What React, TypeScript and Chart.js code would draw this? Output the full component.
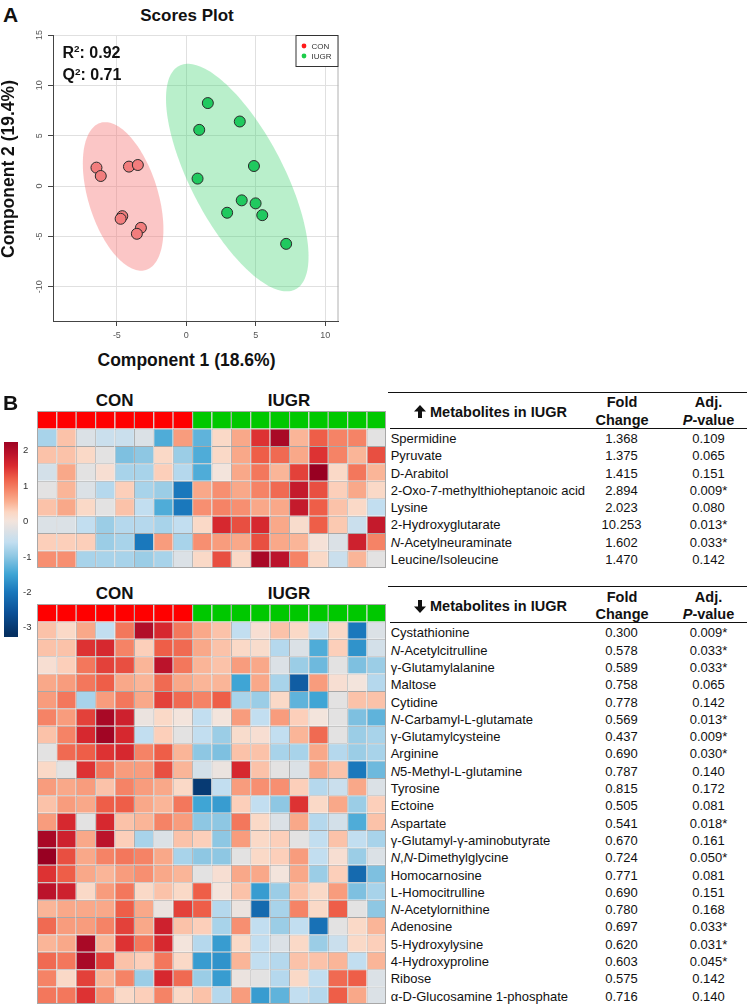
import React, { useEffect, useRef } from "react";
import { Chart, registerables } from "chart.js";
Chart.register(...registerables);

const FONT = "'Liberation Sans', Arial, Helvetica, sans-serif";
Chart.defaults.font.family = FONT;

// ---------- Panel A data ----------
const conX = [-6.47, -6.16, -4.13, -3.49, -4.61, -4.73, -3.27, -3.56];
const conY = [1.83, 1.0, 1.93, 2.09, -2.99, -3.25, -4.15, -4.74];
const iugrX = [1.55, 0.93, 3.85, 4.87, 0.81, 3.99, 4.99, 2.94, 5.47, 7.19];
const iugrY = [8.24, 5.58, 6.41, 1.99, 0.74, -1.42, -1.72, -2.65, -2.89, -5.74];
const xTicks = [-5, 0, 5, 10];
const yTicks = [-10, -5, 0, 5, 10, 15];
// 95% regions: centre, major half-axis, minor half-axis (data units)
const conEllipse = { c: [-4.55, -1.03], u: [-1.645, 7.3], v: [2.39, 1.043] };
const iugrEllipse = { c: [3.67, 0.84], u: [-4.2, 11.09], v: [2.95, 2.16] };

// ---------- Panel B data ----------
const sampleGroups = ["CON", "CON", "CON", "CON", "CON", "CON", "CON", "CON",
  "IUGR", "IUGR", "IUGR", "IUGR", "IUGR", "IUGR", "IUGR", "IUGR", "IUGR", "IUGR"];
const colorTicks = [2, 1, 0, -1, -2, -3];

const upNames = ["Spermidine", "Pyruvate", "D-Arabitol", "2-Oxo-7-methylthioheptanoic acid", "Lysine",
  "2-Hydroxyglutarate", "N-Acetylneuraminate", "Leucine/Isoleucine"];
const upFold = [1.368, 1.375, 1.415, 2.894, 2.023, 10.253, 1.602, 1.47];
const upP = [0.109, 0.065, 0.151, 0.009, 0.08, 0.013, 0.033, 0.142];
const upHeat = [
  [-0.8, 0.4, -0.3, -0.5, -0.5, -0.3, -1.4, 0.7, -1.3, 0.2, 0.6, 1.5, 2.1, 0.5, 1.2, 0.9, 0.9, -0.2],
  [0.4, 0.4, 0.2, -0.2, -1.1, -1.0, 0.2, -0.9, -1.4, 0.2, 0.6, 1.2, 1.1, 0.6, 1.5, 0.9, 0.5, 1.3],
  [-0.4, 0.6, -0.2, 0.1, -0.8, -0.8, 0.3, -0.7, -1.4, 0.0, 0.6, 1.0, 0.5, 1.4, 2.3, 0.2, 1.0, 0.5],
  [-0.2, 0.5, -0.3, -0.7, 0.3, -0.8, -0.9, -2.0, 0.6, 0.8, 0.6, 0.9, 1.1, 1.8, 1.3, 0.3, 0.6, 0.2],
  [0.4, 0.6, 0.2, -0.2, 0.4, -0.6, -1.4, -2.0, 0.8, 0.9, 0.8, 0.6, 0.6, 1.8, 1.2, 0.4, 0.2, -0.6],
  [-0.3, -0.3, -0.6, -0.9, -0.7, -0.7, -0.8, -0.6, 0.2, 1.6, 1.3, 1.6, 0.6, 0.15, 1.2, 0.35, -0.5, 1.8],
  [0.3, 0.3, 0.3, -0.9, -0.8, -2.0, 0.7, -0.8, 0.8, 0.7, 0.6, 1.3, 0.6, 0.5, 0.05, -0.3, 1.7, 0.9],
  [0.8, 0.8, -0.8, -0.8, -0.8, -0.9, -0.8, -0.3, 0.2, 1.3, 0.2, 2.1, 1.9, 0.9, 0.2, -0.5, 0.5, -0.2],
];

const downNames = ["Cystathionine", "N-Acetylcitrulline", "γ-Glutamylalanine", "Maltose", "Cytidine",
  "N-Carbamyl-L-glutamate", "γ-Glutamylcysteine", "Arginine", "N5-Methyl-L-glutamine", "Tyrosine", "Ectoine",
  "Aspartate", "γ-Glutamyl-γ-aminobutyrate", "N,N-Dimethylglycine", "Homocarnosine", "L-Homocitrulline",
  "N-Acetylornithine", "Adenosine", "5-Hydroxylysine", "4-Hydroxyproline", "Ribose", "α-D-Glucosamine 1-phosphate"];
const downFold = [0.3, 0.578, 0.589, 0.758, 0.778, 0.569, 0.437, 0.69, 0.787, 0.815, 0.505, 0.541, 0.67, 0.724,
  0.771, 0.69, 0.78, 0.697, 0.62, 0.603, 0.575, 0.716];
const downP = [0.009, 0.033, 0.033, 0.065, 0.142, 0.013, 0.009, 0.03, 0.14, 0.172, 0.081, 0.018, 0.161, 0.05,
  0.081, 0.151, 0.168, 0.033, 0.031, 0.045, 0.142, 0.14];
const downHeat = [
  [0.4, 0.2, 0.6, -0.6, 1.0, 2.0, 1.6, 1.0, 0.6, 0.4, -0.6, 0.1, 0.4, 0.2, -0.6, 0.2, -2.0, -0.3],
  [0.4, 0.4, 1.5, 1.6, 0.9, 0.3, 1.2, 1.1, 0.6, 0.4, 0.2, 0.15, -0.7, -0.3, -1.4, 0.3, -1.7, -0.4],
  [0.1, 0.3, 1.0, 1.4, 1.3, 0.5, 1.9, 1.0, 0.5, 0.4, 0.7, 0.6, -0.3, -0.9, -1.2, -0.2, -1.1, -0.9],
  [0.6, 0.7, 1.0, 1.2, 0.6, 0.5, 1.1, 0.6, 0.5, 0.5, -1.5, 0.6, -0.8, -2.4, 0.7, 0.1, 0.0, -0.7],
  [0.7, 1.0, -0.8, 0.7, 1.0, 0.6, 1.4, 1.1, 0.9, 1.2, -0.8, -0.9, 0.2, -1.3, -1.5, -0.2, 0.4, 0.4],
  [0.9, 0.7, 1.4, 2.1, 1.7, -0.1, 0.2, 0.0, -0.6, 0.0, 0.7, -0.6, 0.7, 0.3, 0.0, -0.2, -1.1, -1.3],
  [0.4, 0.9, 1.6, 2.2, 1.6, -0.6, 0.3, -0.2, -0.6, -0.9, 0.15, 0.1, -0.6, 0.5, 1.1, -0.2, -0.9, -0.8],
  [-0.2, 1.1, 1.2, 1.5, 1.6, 0.9, 1.2, 0.5, -1.0, -1.1, 0.4, 0.4, -0.8, -0.8, 0.6, -0.7, -0.9, -0.8],
  [0.2, -0.2, 1.5, 1.0, 0.7, 0.7, 1.3, 0.5, -0.4, -0.1, 1.6, 0.4, -0.2, -0.3, 0.6, 0.4, -2.0, -1.2],
  [0.7, 0.6, 0.7, 0.4, 0.9, 0.7, 0.6, 0.2, -3.0, -0.6, 0.7, 0.8, 0.8, 0.3, -0.7, -0.5, 0.6, -0.3],
  [0.4, 0.7, 0.6, 1.2, 1.2, 0.6, 0.5, 1.0, -1.5, -1.6, 0.3, -0.6, -1.0, 1.5, 0.2, 0.6, -0.9, 0.3],
  [0.7, 1.6, -0.2, 1.6, 0.4, 0.5, 0.9, 0.7, -1.0, -1.0, 1.0, 0.2, -0.3, 0.6, -0.7, -0.4, -1.4, 0.4],
  [2.1, 1.7, 0.6, 1.9, 0.3, -0.8, -0.3, 0.4, 0.3, -1.0, 0.7, 0.2, 0.3, -0.2, -0.6, 0.4, -0.6, -0.8],
  [2.4, 1.3, 0.6, 0.9, 1.0, 0.9, 0.6, -0.8, -1.0, -1.0, -0.2, 0.2, 0.3, 0.7, -0.6, 0.1, -0.9, -0.3],
  [1.5, 1.2, 0.6, 0.5, 0.7, 0.8, 0.6, 0.5, -0.2, 0.1, 0.6, 0.6, 0.0, 0.6, -0.9, 0.3, -2.2, -1.1],
  [1.9, 1.7, 0.2, 0.7, 1.0, 0.2, 0.4, 0.2, 1.2, 0.0, 0.4, -1.6, -0.9, 0.4, 0.2, 0.7, -1.1, -0.8],
  [0.5, 0.6, 0.6, 0.6, 1.2, 0.6, -0.1, 1.4, 1.2, -0.7, -0.1, -2.2, -0.8, 0.9, 0.2, 1.2, -0.2, -1.0],
  [1.1, 0.7, 0.7, 0.9, 1.4, 0.6, 1.7, 0.4, 0.3, -0.8, 0.8, -0.6, -0.9, -0.6, -2.1, -0.2, 0.2, 0.5],
  [0.5, 0.6, 2.1, 0.5, 1.5, 1.0, 1.6, 0.0, -0.7, -1.6, 0.2, -0.6, -0.3, 0.2, -0.9, -0.5, 0.2, 0.3],
  [1.1, 1.0, 2.1, 1.4, 0.4, 0.3, 1.0, 0.2, -1.6, -1.7, 0.5, -0.6, -0.7, 0.4, 0.4, 0.5, -0.6, 0.5],
  [0.9, 0.2, 1.4, 0.5, 0.9, -0.9, 1.6, 1.1, -0.9, -1.6, -0.1, -0.2, -0.7, 0.2, -0.6, 1.1, 1.2, -0.3],
  [1.0, 1.0, 1.5, 0.8, 0.2, 0.3, 0.9, 0.2, 0.4, -0.7, 0.7, -1.6, -1.3, -0.6, -0.7, 1.2, 0.6, -0.3],
];

// ---------- colour scale ----------
const colorStops: [number, string][] = [
  [-3.2, "#053061"], [-2.6, "#0b4f96"], [-2.0, "#1a78bc"], [-1.5, "#3fa5d5"], [-1.0, "#8ec7e3"],
  [-0.6, "#c2def0"], [-0.25, "#dfe1e4"], [0, "#f3e4dc"], [0.25, "#fcd6c2"], [0.55, "#faae8f"],
  [0.85, "#f6896b"], [1.2, "#ee5e48"], [1.55, "#da2b30"], [1.9, "#bb132b"], [2.3, "#980022"],
];
function hexRgb(h: string) {
  return [parseInt(h.slice(1, 3), 16), parseInt(h.slice(3, 5), 16), parseInt(h.slice(5, 7), 16)];
}
function valueColor(v: number) {
  if (v <= colorStops[0][0]) return colorStops[0][1];
  for (let i = 1; i < colorStops.length; i++) {
    const [v1, c1] = colorStops[i];
    if (v <= v1) {
      const [v0, c0] = colorStops[i - 1];
      const t = (v - v0) / (v1 - v0);
      const a = hexRgb(c0), b = hexRgb(c1);
      return `rgb(${a.map((x, k) => Math.round(x + (b[k] - x) * t)).join(",")})`;
    }
  }
  return colorStops[colorStops.length - 1][1];
}
const groupColor: Record<string, string> = { CON: "#ff0000", IUGR: "#00c800" };

// ---------- chart helpers ----------
function ChartCanvas({ make, left, top, w, h }: { make: () => any; left: number; top: number; w: number; h: number }) {
  const ref = useRef<HTMLCanvasElement>(null);
  useEffect(() => {
    const c = new Chart(ref.current as HTMLCanvasElement, make());
    return () => c.destroy();
  }, []);
  return <canvas ref={ref} width={w} height={h} style={{ position: "absolute", left, top, width: w, height: h }} />;
}

const ellipsePlugin = {
  id: "ellipses",
  beforeDatasetsDraw(chart: any) {
    const { ctx, chartArea, scales } = chart;
    const sx = scales.x, sy = scales.y;
    ctx.save();
    ctx.beginPath();
    ctx.rect(chartArea.left, chartArea.top, chartArea.width, chartArea.height);
    ctx.clip();
    const list = [
      { e: conEllipse, fill: "rgba(245,120,120,0.42)" },
      { e: iugrEllipse, fill: "rgba(60,210,110,0.36)" },
    ];
    for (const { e, fill } of list) {
      ctx.beginPath();
      for (let i = 0; i <= 180; i++) {
        const t = (i / 180) * Math.PI * 2;
        const dx = e.c[0] + e.u[0] * Math.cos(t) + e.v[0] * Math.sin(t);
        const dy = e.c[1] + e.u[1] * Math.cos(t) + e.v[1] * Math.sin(t);
        const px = sx.getPixelForValue(dx), py = sy.getPixelForValue(dy);
        if (i === 0) ctx.moveTo(px, py); else ctx.lineTo(px, py);
      }
      ctx.closePath();
      ctx.fillStyle = fill;
      ctx.fill();
    }
    ctx.restore();
  },
  afterDraw(chart: any) {
    const { ctx, chartArea } = chart;
    ctx.save();
    ctx.strokeStyle = "#b0b0b0";
    ctx.lineWidth = 1;
    ctx.beginPath();
    ctx.moveTo(chartArea.right - 0.5, chartArea.top);
    ctx.lineTo(chartArea.right - 0.5, chartArea.bottom);
    ctx.stroke();
    const bw = 43, bh = 32;
    const bx = chartArea.right - bw, by = chartArea.top;
    ctx.fillStyle = "#fff";
    ctx.fillRect(bx, by, bw, bh);
    ctx.strokeStyle = "#333";
    ctx.strokeRect(bx + 0.5, by + 0.5, bw - 1, bh - 1);
    const items = [{ t: "CON", c: "#ff1a1a" }, { t: "IUGR", c: "#1ccc4a" }];
    items.forEach((it, i) => {
      const cy = by + 11 + i * 10;
      ctx.beginPath();
      ctx.arc(bx + 8.5, cy, 2.4, 0, Math.PI * 2);
      ctx.fillStyle = it.c;
      ctx.fill();
      ctx.fillStyle = "#333";
      ctx.font = `8px ${FONT}`;
      ctx.textBaseline = "middle";
      ctx.fillText(it.t, bx + 16, cy + 0.5);
    });
    ctx.restore();
  },
};

function scoresConfig() {
  return {
    type: "scatter",
    data: {
      datasets: [
        {
          label: "CON", data: conX.map((x, i) => ({ x, y: conY[i] })),
          backgroundColor: "#f27d7d", borderColor: "#2a2a2a", borderWidth: 1, pointRadius: 5.5,
        },
        {
          label: "IUGR", data: iugrX.map((x, i) => ({ x, y: iugrY[i] })),
          backgroundColor: "#20c95f", borderColor: "#2a2a2a", borderWidth: 1, pointRadius: 5.5,
        },
      ],
    },
    options: {
      animation: false, responsive: false, events: [],
      layout: { padding: { top: 35, right: 5, left: 0, bottom: 0 } },
      plugins: { legend: { display: false }, tooltip: { enabled: false } },
      scales: {
        x: {
          type: "linear", min: -9.6, max: 10.96,
          afterBuildTicks: (s: any) => { s.ticks = xTicks.map((v) => ({ value: v })); },
          afterFit: (s: any) => { s.height = 29; },
          grid: { color: "#e0e0e0", tickColor: "#444", tickLength: 5, drawTicks: true },
          border: { display: true, color: "#444", width: 1 },
          ticks: { font: { size: 9 }, color: "#555", padding: 4, maxRotation: 0, autoSkip: false },
        },
        y: {
          type: "linear", min: -13.4, max: 15,
          afterBuildTicks: (s: any) => { s.ticks = yTicks.map((v) => ({ value: v })); },
          afterFit: (s: any) => { s.width = 53; },
          grid: { color: "#e0e0e0", tickColor: "#444", tickLength: 5, drawTicks: true },
          border: { display: true, color: "#444", width: 1 },
          ticks: { font: { size: 9 }, color: "#555", padding: 2, minRotation: 90, maxRotation: 90, crossAlign: "center", autoSkip: false },
        },
      },
    },
    plugins: [ellipsePlugin],
  };
}

const framePlugin = {
  id: "frame",
  afterDraw(chart: any) {
    const { ctx, chartArea } = chart;
    ctx.save();
    ctx.strokeStyle = "#a8a8a8";
    ctx.lineWidth = 1;
    ctx.strokeRect(chartArea.left + 0.5, chartArea.top + 0.5, chartArea.width - 1, chartArea.height - 1);
    ctx.restore();
  },
};

function heatConfig(rows: number[][]) {
  const labels = sampleGroups.map((g, i) => `${g}${i + 1}`);
  const common = {
    categoryPercentage: 1, barPercentage: 1, borderColor: "#a8a8a8",
    borderWidth: { top: 1, left: 1, right: 0, bottom: 0 }, borderSkipped: false, inflateAmount: 0,
  };
  const datasets = [
    { label: "group", data: sampleGroups.map(() => 1), backgroundColor: sampleGroups.map((g) => groupColor[g]), ...common },
    ...rows.map((r, i) => ({ label: `row${i}`, data: r.map(() => 1), backgroundColor: r.map(valueColor), ...common })),
  ];
  return {
    type: "bar",
    data: { labels, datasets },
    options: {
      animation: false, responsive: false, events: [],
      layout: { padding: 0 },
      plugins: { legend: { display: false }, tooltip: { enabled: false } },
      scales: {
        x: { display: false, stacked: true },
        y: { display: false, stacked: true, reverse: true, min: 0, max: rows.length + 1 },
      },
    },
    plugins: [framePlugin],
  };
}

// ---------- text helpers ----------
function T({ x, y, size, bold, align = "left", color = "#111", children }:
  { x: number; y: number; size: number; bold?: boolean; align?: "left" | "center" | "right"; color?: string; children: React.ReactNode }) {
  const top = y - 0.8465 * size;
  const tx = align === "center" ? "translateX(-50%)" : align === "right" ? "translateX(-100%)" : undefined;
  return (
    <div style={{
      position: "absolute", left: x, top, fontSize: size, lineHeight: `${size}px`, fontWeight: bold ? 700 : 400,
      whiteSpace: "nowrap", transform: tx, color, fontFamily: FONT,
    }}>{children}</div>
  );
}

function Name({ text }: { text: string }) {
  if (text.startsWith("N,N-")) return <><i>N</i>,<i>N</i>{text.slice(3)}</>;
  if (/^N5?-/.test(text)) return <><i>N</i>{text.slice(1)}</>;
  return <>{text}</>;
}

const fmtP = (p: number) => p.toFixed(3) + (p <= 0.05 ? "*" : "");
const sup = (s: string) => <span style={{ fontSize: "0.62em", position: "relative", top: "-0.55em" }}>{s}</span>;

function Line({ x1, x2, y }: { x1: number; x2: number; y: number }) {
  return <div style={{ position: "absolute", left: x1, top: y - 0.75, width: x2 - x1, height: 1.5, background: "#111" }} />;
}

function Arrow({ x, y, up }: { x: number; y: number; up: boolean }) {
  // y = vertical centre
  return (
    <svg width={12} height={13} viewBox="0 0 12 13"
      style={{ position: "absolute", left: x, top: y - 6.5, transform: up ? undefined : "rotate(180deg)" }}>
      <polygon points="6,0 12,6.4 8,6.4 8,13 4,13 4,6.4 0,6.4" fill="#111" />
    </svg>
  );
}

function Table({ up, names, fold, p, topLine, rowBase }:
  { up: boolean; names: string[]; fold: number[]; p: number[]; topLine: number; rowBase: number }) {
  const step = 17.3;
  return (
    <>
      <Line x1={388} x2={747} y={topLine} />
      <Arrow x={414} y={topLine + 19.6} up={up} />
      <T x={430} y={topLine + 24.8} size={14.5} bold>Metabolites in IUGR</T>
      <T x={622} y={topLine + 15.2} size={14.5} bold align="center">Fold</T>
      <T x={622} y={topLine + 32.9} size={14.5} bold align="center">Change</T>
      <T x={708.5} y={topLine + 15.2} size={14.5} bold align="center">Adj.</T>
      <T x={708.5} y={topLine + 32.9} size={14.5} bold align="center"><i>P</i>-value</T>
      <Line x1={390} x2={747} y={topLine + 36} />
      {names.map((n, i) => (
        <React.Fragment key={n}>
          <T x={390.7} y={rowBase + i * step} size={13}><Name text={n} /></T>
          <T x={621.5} y={rowBase + i * step} size={13} align="center">{fold[i].toFixed(3)}</T>
          <T x={708.5} y={rowBase + i * step} size={13} align="center">{fmtP(p[i])}</T>
        </React.Fragment>
      ))}
    </>
  );
}

export default function App() {
  const cbTop = 442, cbBottom = 637, cbMax = 2.23, cbMin = -3.28;
  const cbY = (v: number) => cbTop + ((cbMax - v) / (cbMax - cbMin)) * (cbBottom - cbTop);
  const grad = colorStops
    .slice()
    .reverse()
    .filter(([v]) => v <= cbMax + 0.2 && v >= cbMin - 0.2)
    .map(([v, c]) => `${c} ${(((cbMax - v) / (cbMax - cbMin)) * 100).toFixed(1)}%`)
    .join(", ");
  return (
    <div style={{ position: "absolute", left: 0, top: 0, width: 747, height: 1006, background: "#fff", overflow: "hidden", fontFamily: FONT }}>
      {/* Panel A */}
      <T x={3} y={22} size={21} bold>A</T>
      <T x={187} y={21.7} size={17} bold align="center">Scores Plot</T>
      <ChartCanvas make={scoresConfig} left={0} top={0} w={345} h={350} />
      <T x={62.5} y={58.3} size={16} bold>R{sup("2")}: 0.92</T>
      <T x={62.5} y={81} size={16} bold>Q{sup("2")}: 0.71</T>
      <T x={186.5} y={366.5} size={17.5} bold align="center">Component 1 (18.6%)</T>
      <div style={{
        position: "absolute", left: 9, top: 168.5, transform: "translate(-50%, -50%) rotate(-90deg)",
        fontSize: 17.5, lineHeight: "17.5px", fontWeight: 700, whiteSpace: "nowrap", color: "#111", fontFamily: FONT,
      }}>Component 2 (19.4%)</div>

      {/* Panel B */}
      <T x={3} y={410} size={21} bold>B</T>
      <T x={114.7} y={406.5} size={17} bold align="center">CON</T>
      <T x={289} y={406.5} size={17} bold align="center">IUGR</T>
      <ChartCanvas make={() => heatConfig(upHeat)} left={37} top={411} w={349} h={157} />
      <T x={114.7} y={599.5} size={17} bold align="center">CON</T>
      <T x={289} y={599.5} size={17} bold align="center">IUGR</T>
      <ChartCanvas make={() => heatConfig(downHeat)} left={37} top={604} w={349} h={400} />

      {/* colour key */}
      <div style={{ position: "absolute", left: 4, top: cbTop, width: 14, height: cbBottom - cbTop, background: `linear-gradient(to bottom, ${grad})` }} />
      {colorTicks.map((v) => (
        <T key={v} x={23} y={cbY(v) + 3.3} size={9.5} color="#333">{String(v)}</T>
      ))}

      <Table up={true} names={upNames} fold={upFold} p={upP} topLine={392.3} rowBase={443} />
      <Table up={false} names={downNames} fold={downFold} p={downP} topLine={586.7} rowBase={637.4} />
    </div>
  );
}
